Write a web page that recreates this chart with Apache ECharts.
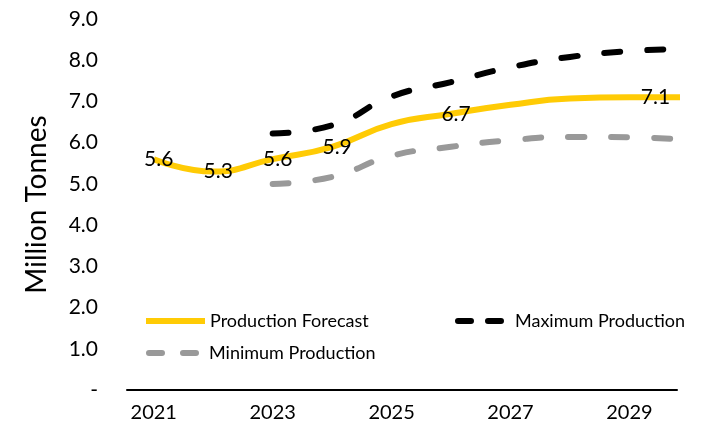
<!DOCTYPE html>
<html>
<head>
<meta charset="utf-8">
<script src="https://cdn.jsdelivr.net/npm/echarts@6/dist/echarts.min.js"></script>
<style>html,body{margin:0;padding:0;background:#fff;}#c{width:710px;height:436px;}</style>
</head>
<body>
<div id="c"></div>
<script>
var years = [2021, 2022, 2023, 2024, 2025, 2026, 2027, 2028, 2029, 2030];
var forecast = [5.6, 5.3, 5.6, 5.9, 6.45, 6.7, 6.92, 7.07, 7.1, 7.1];
var maximum = [null, null, 6.22, 6.42, 7.12, 7.47, 7.83, 8.08, 8.22, 8.28];
var minimum = [null, null, 5.0, 5.17, 5.68, 5.9, 6.06, 6.14, 6.13, 6.07];
var labelYears = [2021, 2022, 2023, 2024, 2026, 2029];
var xTicks = [2021, 2023, 2025, 2027, 2029];

var FONT = 'Lato';
function pairs(arr) {
  return years.map(function (y, i) { return arr[i] == null ? null : [y, arr[i]]; }).filter(function (p) { return p; });
}
var forecastData = years.map(function (y, i) {
  var item = { value: [y, forecast[i]] };
  if (labelYears.indexOf(y) >= 0) {
    item.label = { show: true, offset: y === 2029 ? [26, 0] : [5, 0] };
  }
  return item;
});

function legendCfg(name, left, top, width, dash) {
  var ls = { width: 6 };
  if (dash) { ls.type = dash; ls.cap = 'round'; }
  return {
    data: [name], left: left, top: top, padding: 0,
    itemWidth: width, itemHeight: 2,
    itemStyle: { opacity: 0 },
    lineStyle: ls,
    textStyle: { fontFamily: FONT, fontSize: 18, color: '#000' }
  };
}

var chart = echarts.init(document.getElementById('c'));
chart.setOption({
  animation: false,
  grid: { left: 127, right: 33, top: 19, bottom: 46 },
  xAxis: {
    type: 'value', min: 2020.55, max: 2029.8,
    axisLine: { show: true, lineStyle: { color: '#000', width: 2 } },
    axisTick: { show: false },
    splitLine: { show: false },
    axisLabel: { customValues: xTicks, color: '#000', fontFamily: FONT, fontSize: 20, margin: 13,
      formatter: function (v) { return String(v); } }
  },
  yAxis: {
    type: 'value', min: 0, max: 9, interval: 1,
    name: 'Million Tonnes', nameLocation: 'middle', nameGap: 76, nameRotate: 90,
    nameTextStyle: { color: '#000', fontFamily: FONT, fontSize: 28 },
    axisLine: { show: false }, axisTick: { show: false }, splitLine: { show: false },
    axisLabel: {
      color: '#000', fontFamily: FONT, fontSize: 21, margin: 29,
      formatter: function (v) { return v === 0 ? '-' : v.toFixed(1); }
    }
  },
  legend: [
    legendCfg('Production Forecast', 143, 312, 59, null),
    legendCfg('Maximum Production', 455, 312, 52, [13, 17]),
    legendCfg('Minimum Production', 146, 344, 55, [13, 21])
  ],
  series: [
    { name: 'Maximum Production', type: 'line', smooth: 0.5, symbol: 'none', clip: true,
      data: pairs(maximum), z: 2, itemStyle: { color: '#000' },
      lineStyle: { color: '#000', width: 6, type: [16, 27], cap: 'round' } },
    { name: 'Minimum Production', type: 'line', smooth: 0.5, symbol: 'none', clip: true,
      data: pairs(minimum), z: 2, itemStyle: { color: '#999999' },
      lineStyle: { color: '#999999', width: 6, type: [16, 27], cap: 'round' } },
    { name: 'Production Forecast', type: 'line', smooth: 0.5, symbol: 'circle', symbolSize: 0.1, showSymbol: true, clip: true,
      data: forecastData, z: 3,
      itemStyle: { color: '#FFCB05' },
      lineStyle: { color: '#FFCB05', width: 6 },
      label: { show: false, position: 'inside', color: '#000', fontFamily: FONT, fontSize: 21,
        formatter: function (p) { return p.value[1].toFixed(1); } } }
  ]
});
</script>
</body>
</html>
